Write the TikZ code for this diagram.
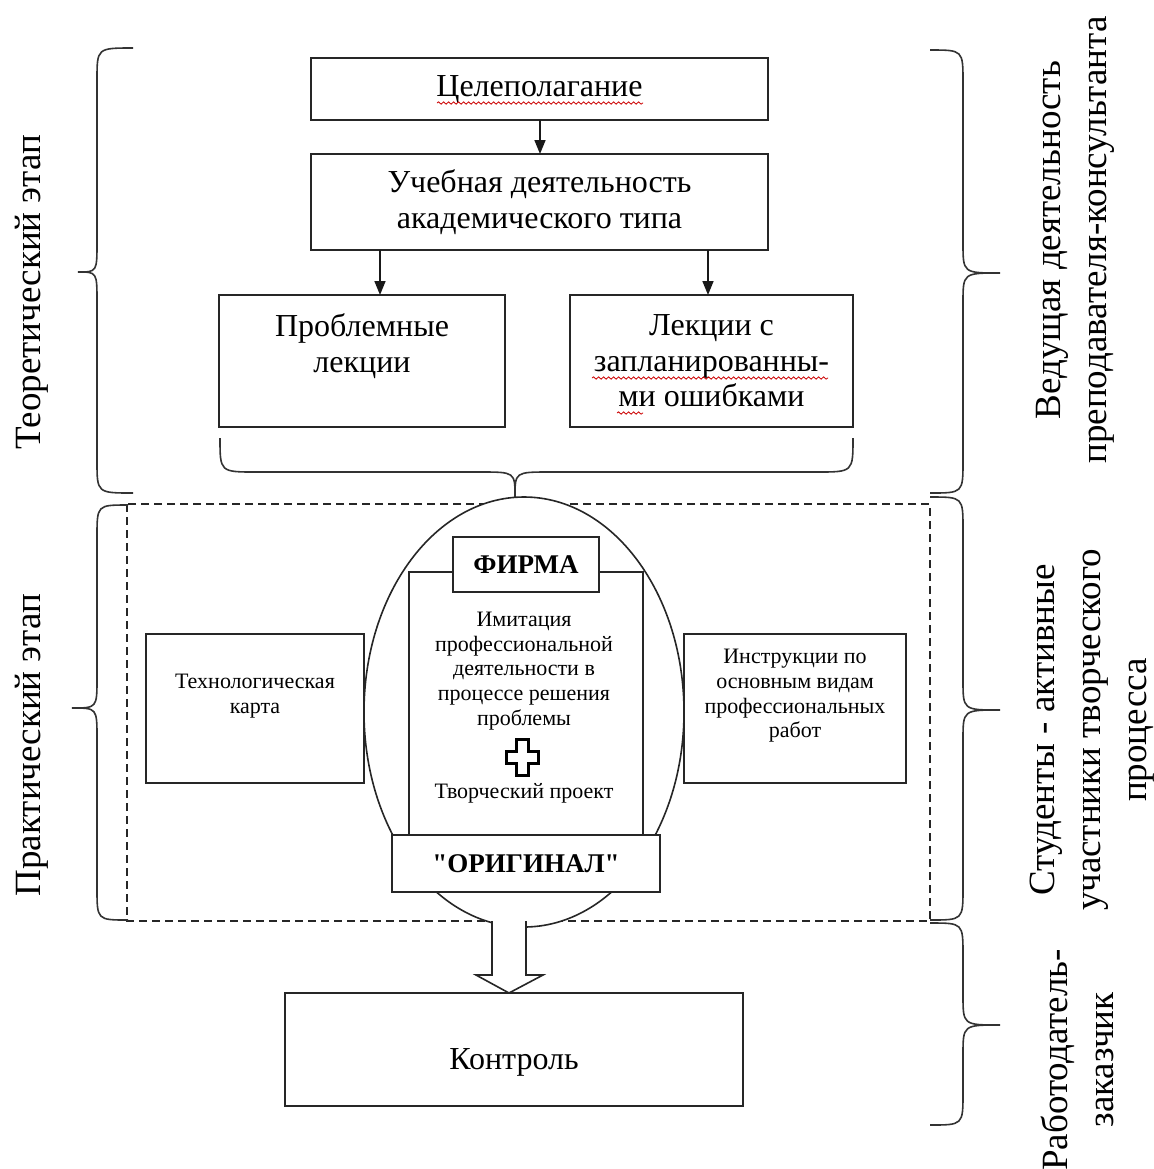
\documentclass[tikz,border=0pt]{standalone}
\usepackage{fontspec}
\setmainfont{Liberation Serif}[Ligatures=TeXOff]
\usetikzlibrary{arrows.meta,shapes.geometric,decorations.pathmorphing}
\newcommand\vbr[6]{% end x, line x, tip x, top y, tip y, bottom y
  \draw[bracestyle] (#1,#4) .. controls (#2,#4) .. (#2,#4+32) -- (#2,#5-30)
     .. controls (#2,#5) .. (#3,#5) .. controls (#2,#5) .. (#2,#5+30)
     -- (#2,#6-32) .. controls (#2,#6) .. (#1,#6);}
\tikzset{
  box/.style={draw=black!85, line width=0.9pt, fill=white, inner sep=0pt, outer sep=0pt, align=center},
  bigtxt/.style={font=\fontsize{16pt}{17.8pt}\selectfont, align=center, inner sep=0pt},
  smalltxt/.style={font=\fontsize{11pt}{12.3pt}\selectfont, align=center, inner sep=0pt},
  boldtxt/.style={font=\fontsize{13.5pt}{16pt}\selectfont\bfseries},
  sidetxt/.style={font=\fontsize{18.5pt}{23pt}\selectfont, align=center, inner sep=0pt, rotate=90},
  bracestyle/.style={draw=black!80, line width=0.8pt},
  arr/.style={draw=black!90, line width=0.8pt, -{Triangle[length=7pt,width=5.5pt]}},
  spell/.style={draw=red!80!black, line width=0.4pt, decorate, decoration={snake, amplitude=0.6pt, segment length=2.5pt}},
}
\begin{document}
\begin{tikzpicture}[x=0.5pt,y=-0.5pt]
\useasboundingbox (0,0) rectangle (1153,1169);

% top part
\node[box, bigtxt, minimum width=228.5pt, minimum height=31pt] (goal) at (539.5,89) {Целеполагание};
\node[box, bigtxt, minimum width=228.5pt, minimum height=48pt] (study) at (539.5,202) {Учебная деятельность\\академического типа};
\node[box, bigtxt, minimum width=143pt, minimum height=66pt] (prob) at (362,361) {Проблемные\\лекции\\\mbox{}};
\node[box, bigtxt, minimum width=141.5pt, minimum height=66pt] (err) at (711.5,361) {Лекции с\\запланированны-\\ми ошибками};

% spell-check marks
\coordinate (s1a) at (437,103); \coordinate (s1b) at (643,103);
\coordinate (s2a) at (592,378); \coordinate (s2b) at (828,378);
\coordinate (s3a) at (617,413); \coordinate (s3b) at (643,413);
\draw[spell] (s1a) -- (s1b);
\draw[spell] (s2a) -- (s2b);
\draw[spell] (s3a) -- (s3b);

\coordinate (ax1) at (540,0);
\coordinate (ax2) at (380,0);
\coordinate (ax3) at (708,0);
\draw[arr] (goal.south -| ax1) -- (study.north -| ax1);
\draw[arr] (study.south -| ax2) -- (prob.north -| ax2);
\draw[arr] (study.south -| ax3) -- (err.north -| ax3);

% horizontal brace under the lectures
\draw[bracestyle] (220,438) .. controls (220,472) .. (256,472) -- (480,472)
   .. controls (515,472) .. (515,497) .. controls (515,472) .. (550,472)
   -- (817,472) .. controls (853,472) .. (853,438);

% dashed frame
\draw[draw=black!85, line width=0.9pt, dash pattern=on 4pt off 2.5pt] (127,504) rectangle (930,921);

% side boxes
\node[box, minimum width=109pt, minimum height=74.5pt] (tech) at (255,708.5) {};
\node[smalltxt] (techt) at (255,696) {Технологическая\\карта};
\node[box, minimum width=111pt, minimum height=74.5pt] (instr) at (795,708.5) {};
\node[smalltxt] (instrt) at (795,696) {Инструкции по\\основным видам\\профессиональных\\работ};

% ellipse and firm
\node[draw=black!85, line width=0.8pt, fill=white, ellipse, inner sep=0pt, minimum width=160pt, minimum height=215pt] (ell) at (524,712) {};
\node[box, minimum width=117pt, minimum height=131.5pt] (inner) at (526,703.5) {};
\node[box, boldtxt, minimum width=73pt, minimum height=27.5pt] (firma) at (526,564.5) {ФИРМА};
\node[box, boldtxt, minimum width=134pt, minimum height=28.5pt] (orig) at (526,863.5) {"ОРИГИНАЛ"};
\node[smalltxt] (imit) at (524,671) {Имитация\\профессиональной\\деятельности в\\процессе решения\\проблемы};
\draw[black, line width=1.5pt] (516,739) -- (528,739) -- (528,751) -- (538,751) -- (538,763) -- (528,763) -- (528,775) -- (516,775) -- (516,763) -- (506,763) -- (506,751) -- (516,751) -- cycle;
\node[smalltxt] (proj) at (524,793) {Творческий проект};

% block arrow to control
\node[box, minimum width=229pt, minimum height=56.5pt] (ctrl) at (514,1049.5) {};
\node[bigtxt] (ctrlt) at (514,1062) {Контроль};
\draw[draw=black!85, line width=0.8pt, fill=white] (492,921) -- (492,975) -- (476,975) -- (509,993) -- (543,975) -- (526,975) -- (526,921);

% braces left
\vbr{133}{97}{78}{48}{272}{493}
\vbr{128}{97}{72}{505}{708}{920}
% braces right
\vbr{930}{963}{1000}{50}{273}{493}
\vbr{930}{963}{1000}{497}{710}{920}
\vbr{930}{963}{1000}{923}{1025}{1125}

% side texts
\node[sidetxt] (theory) at (32,292) {Теоретический этап};
\node[sidetxt] (practice) at (32,745) {Практический этап};
\node[sidetxt] (lead) at (1075,240) {Ведущая деятельность\\преподавателя-консультанта};
\node[sidetxt] (stud) at (1092,730) {Студенты - активные\\участники творческого\\процесса};
\node[sidetxt] (empl) at (1077,1060) {Работодатель-\\заказчик};
\end{tikzpicture}
\end{document}
